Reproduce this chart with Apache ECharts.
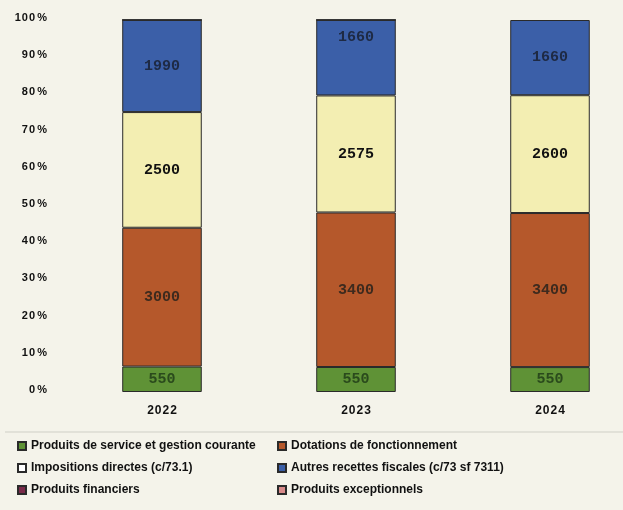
<!DOCTYPE html>
<html>
<head>
<meta charset="utf-8">
<script src="https://cdn.jsdelivr.net/npm/echarts@6/dist/echarts.min.js"></script>
<style>
  html, body { margin: 0; padding: 0; background: #f4f3ea; }
  #chart { width: 623px; height: 510px; }
</style>
</head>
<body>
<div id="chart"></div>
<script>
const years = ['2022', '2023', '2024'];
const service = [550, 550, 550];
const dotations = [3000, 3400, 3400];
const impositions = [2500, 2575, 2600];
const autres = [1990, 1660, 1660];
const financiers = [0, 0, 0];
const exceptionnels = [0, 0, 0];

const names = [
    'Produits de service et gestion courante',
    'Dotations de fonctionnement',
    'Impositions directes (c/73.1)',
    'Autres recettes fiscales (c/73 sf 7311)',
    'Produits financiers',
    'Produits exceptionnels'
];

// espacement des caractères comme sur l'original
const spaced = s => String(s).split('').join('\u200a');

const totals = years.map((y, i) =>
    service[i] + dotations[i] + impositions[i] + autres[i] + financiers[i] + exceptionnels[i]);

const chart = echarts.init(document.getElementById('chart'));

const makeSeries = (name, values, color, labelColor) => ({
    name,
    type: 'bar',
    stack: 'total',
    barWidth: '41%',
    itemStyle: { color, borderColor: '#2a2a2a', borderWidth: 1 },
    label: {
        show: true,
        color: labelColor,
        fontFamily: 'Liberation Mono',
        fontWeight: 'bold',
        fontSize: 15,
        formatter: p => values[p.dataIndex] ? values[p.dataIndex] : ''
    },
    data: values.map((v, i) => v / totals[i] * 100)
});

const series = [
    makeSeries(names[0], service, '#5f9236', '#2a4a1c'),
    makeSeries(names[1], dotations, '#b5582b', '#3d2a1e'),
    makeSeries(names[2], impositions, '#f3eeb2', '#111111'),
    makeSeries(names[3], autres, '#3b5fa8', '#1e2a44'),
    makeSeries(names[4], financiers, '#7a2a4a', '#111111'),
    makeSeries(names[5], exceptionnels, '#d98a8a', '#111111')
];
// 1660 de 2023 est placé en haut du bloc
series[3].data[1] = { value: series[3].data[1], label: { position: 'insideTop', distance: 10 } };

const legendText = { color: '#111', fontFamily: 'Liberation Sans', fontSize: 12, fontWeight: 'bold' };
const legendBase = {
    orient: 'vertical', top: 440, itemGap: 10, padding: 0,
    icon: 'rect', itemWidth: 8, itemHeight: 8,
    textStyle: legendText
};

const option = {
    backgroundColor: '#f4f3ea',
    animation: false,
    grid: { left: 65, top: 20, width: 582, bottom: 118, outerBoundsMode: 'none', containLabel: false },
    xAxis: {
        type: 'category',
        data: years,
        axisLine: { show: false },
        axisTick: { show: false },
        axisLabel: {
            margin: 13,
            color: '#111',
            fontFamily: 'Liberation Sans',
            fontWeight: 'bold',
            fontSize: 12,
            formatter: v => spaced(v)
        }
    },
    yAxis: {
        type: 'value',
        min: 0,
        max: 100,
        interval: 10,
        splitLine: { show: false },
        axisLine: { show: false },
        axisTick: { show: false },
        axisLabel: {
            margin: 18,
            verticalAlign: 'bottom',
            lineHeight: 4,
            color: '#111',
            fontFamily: 'Liberation Sans',
            fontWeight: 'bold',
            fontSize: 11,
            formatter: v => spaced(v) + '\u2009%'
        }
    },
    legend: [
        Object.assign({}, legendBase, {
            left: 17,
            data: [names[0], { name: names[2], itemStyle: { color: '#ffffff' } }, names[4]]
        }),
        Object.assign({}, legendBase, {
            left: 277,
            data: [names[1], names[3], names[5]]
        })
    ],
    graphic: [
        {
            type: 'line',
            shape: { x1: 5, y1: 432, x2: 623, y2: 432 },
            style: { stroke: '#cfcfc6', lineWidth: 1 }
        }
    ],
    series
};

chart.setOption(option);
</script>
</body>
</html>
